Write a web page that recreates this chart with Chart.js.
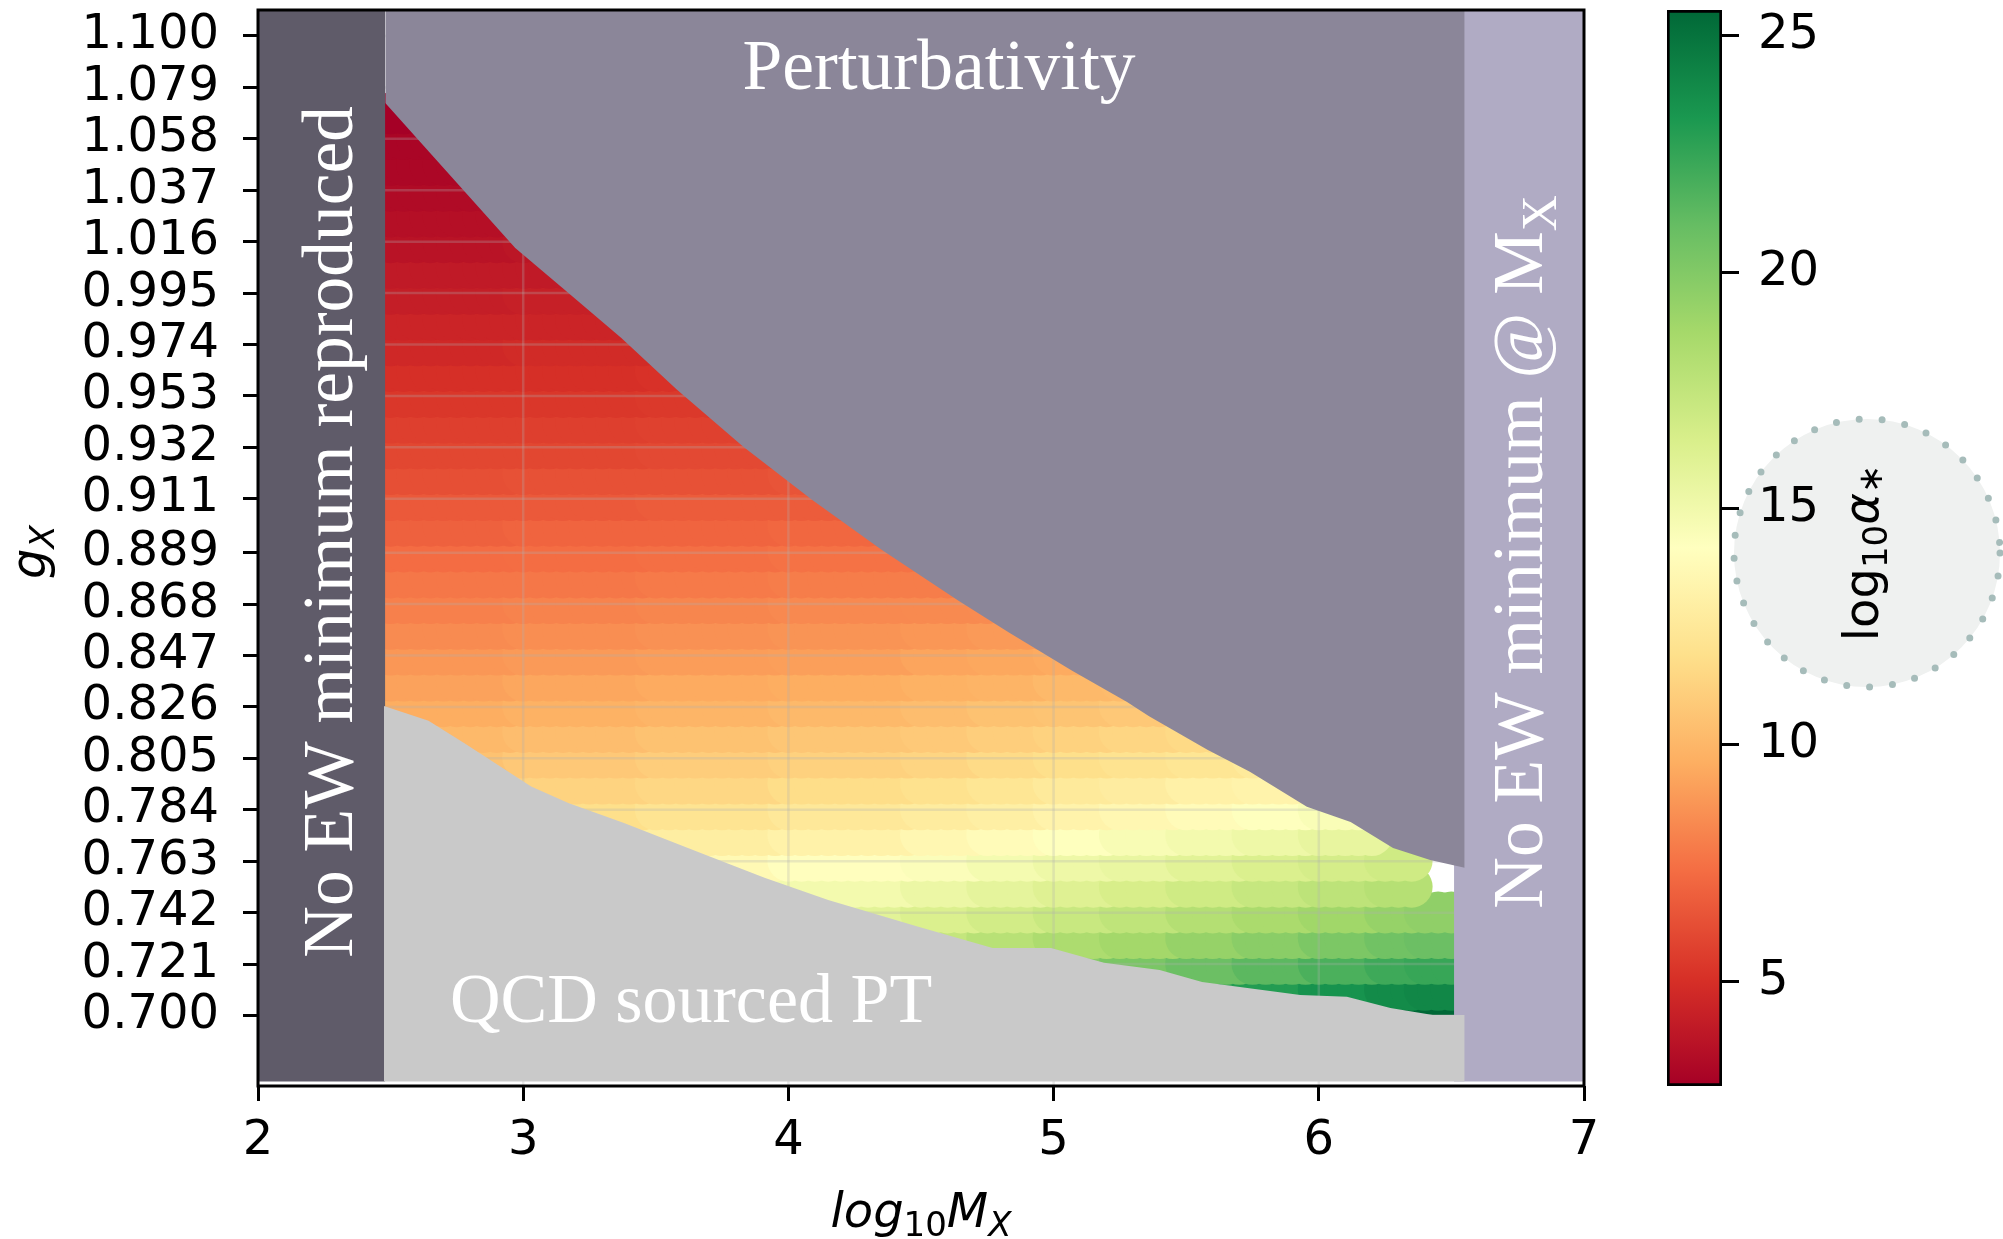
<!DOCTYPE html>
<html>
<head>
<meta charset="utf-8">
<script src="https://cdn.jsdelivr.net/npm/chart.js@4.4.1/dist/chart.umd.min.js"></script>
<style>
html,body{margin:0;padding:0;background:#fff;}
#wrap{position:relative;width:2003px;height:1239px;overflow:hidden;background:#fff;}
canvas{position:absolute;top:0;}
</style>
</head>
<body>
<div id="wrap">
<canvas id="main" width="2003" height="1239" style="left:0px"></canvas>
<canvas id="cb" width="403" height="1239" style="left:1600px"></canvas>
</div>
<script>
// ---------------- DATA ----------------
const xTicks = [2, 3, 4, 5, 6, 7];
const yTickLabels = ['0.700','0.721','0.742','0.763','0.784','0.805','0.826','0.847','0.868','0.889',
                     '0.911','0.932','0.953','0.974','0.995','1.016','1.037','1.058','1.079','1.100'];
const cbTicks = [5, 10, 15, 20, 25];

// g_X grid rows of the scan
const gRows = [0.7000,0.7105,0.7211,0.7316,0.7421,0.7526,0.7632,0.7737,0.7842,0.7947,
               0.8053,0.8158,0.8263,0.8368,0.8474,0.8579,0.8684,0.8789,0.8895,0.9000,
               0.9105,0.9211,0.9316,0.9421,0.9526,0.9632,0.9737,0.9842,0.9947,1.0053,
               1.0158,1.0263,1.0368,1.0474,1.0579,1.0684];
// log10 M_X grid columns of the scan
const xGrid = [2.50,2.55,2.60,2.65,2.70,2.75,2.80,2.85,2.90,2.95,
               3.00,3.05,3.10,3.15,3.20,3.25,3.30,3.35,3.40,3.45,
               3.50,3.55,3.60,3.65,3.70,3.75,3.80,3.85,3.90,3.95,
               4.00,4.05,4.10,4.15,4.20,4.25,4.30,4.35,4.40,4.45,
               4.50,4.55,4.60,4.65,4.70,4.75,4.80,4.85,4.90,4.95,
               5.00,5.05,5.10,5.15,5.20,5.25,5.30,5.35,5.40,5.45,
               5.50,5.55,5.60,5.65,5.70,5.75,5.80,5.85,5.90,5.95,
               6.00,6.05,6.10,6.15,6.20,6.25,6.30,6.35,6.40,6.45,6.50];
// log10 alpha_* read in column blocks of log10 M_X (edges below); each block lists rows from blockFirstRow
const blockEdges = [2.5, 3.0, 3.5, 4.0, 4.5, 4.75, 5.0, 5.25, 5.5, 5.75, 6.0, 6.25, 6.4, 6.5];
const blockFirstRow = [8, 6, 4, 2, 1, 1, 0, 0, 0, 0, 0, 0, 0];
const alphaM250 = [11.6,11.0,10.5,10.1,9.6,9.2,8.8,8.4,8.0,7.7,7.3,6.9,6.6,6.2,5.9,5.6,5.3,5.0,4.7,4.5,4.2,4.0,3.7,3.5,3.3,3.1,3.0,2.78];
const alphaM300 = [13.4,12.6,11.9,11.3,10.8,10.3,9.8,9.35,8.9,8.5,8.1,7.7,7.35,7.0,6.6,6.3,5.9,5.6,5.3,5.0,4.8,4.5,4.3,4.0,3.8,3.6];
const alphaM350 = [15.5,14.5,13.7,12.9,12.2,11.5,11.0,10.5,9.95,9.5,9.0,8.6,8.2,7.8,7.4,7.0,6.7,6.3,6.0,5.7,5.4,5.1,4.8,4.6];
const alphaM400 = [18.4,17.0,15.9,14.9,14.1,13.2,12.5,11.8,11.2,10.7,10.1,9.6,9.1,8.7,8.3,7.9,7.5,7.1,6.7,6.4,6.0];
const alphaM450 = [20.5,18.8,17.4,16.3,15.3,14.4,13.6,12.75,12.0,11.4,10.85,10.3,9.8,9.3,8.8,8.35,7.9,7.5];
const alphaM475 = [21.0,19.3,17.9,16.75,15.7,14.8,13.9,13.0,12.3,11.65,11.05,10.5,9.9,9.4,8.9,8.4,8.0];
const alphaM500 = [22.9,21.5,19.8,18.4,17.2,16.1,15.2,14.2,13.3,12.6,11.9,11.25,10.6,10.1,9.5,9.0];
const alphaM525 = [23.4,22.0,20.3,18.8,17.6,16.5,15.5,14.6,13.6,12.8,12.1,11.45,10.8,10.2,9.6];
const alphaM550 = [24.0,22.5,20.8,19.3,18.1,16.9,15.9,14.9,13.9,13.1,12.3,11.6,11.0];
const alphaM575 = [24.5,23.0,21.3,19.7,18.5,17.3,16.3,15.2,14.2,13.3,12.6,11.8];
const alphaM600 = [25.0,23.5,21.8,20.2,18.9,17.7,16.6,15.55,14.5,13.6];
const alphaM625 = [25.4,23.9,22.2,20.6,19.3,18.0,16.9];
const alphaM640 = [25.55,24.1,22.4,20.8,19.5];

// Perturbativity bound (region above)
const pertX = [2.48, 2.97, 3.165, 3.37, 3.58, 3.83, 4.09, 4.35, 4.64, 4.83, 5.07, 5.277, 5.36, 5.58, 5.74, 5.955, 6.12, 6.28, 6.42, 6.55];
const pertG = [1.0726, 1.0134, 0.9955, 0.9767, 0.9555, 0.9322, 0.9105, 0.8903, 0.8695, 0.8565, 0.8408, 0.8280, 0.8222, 0.8085, 0.7995, 0.7852, 0.7790, 0.7684, 0.7635, 0.7603];
// QCD sourced PT bound (region below)
const qcdX = [2.475, 2.643, 2.777, 3.03, 3.17, 3.38, 3.667, 3.91, 4.15, 4.49, 4.77, 4.99, 5.19, 5.40, 5.56, 5.93, 6.106, 6.27, 6.43, 6.55];
const qcdG = [0.8264, 0.8204, 0.8113, 0.7935, 0.7868, 0.7786, 0.7664, 0.7562, 0.7472, 0.7362, 0.7276, 0.7276, 0.7215, 0.7186, 0.7137, 0.7084, 0.7076, 0.7031, 0.7002, 0.7002];
// excluded vertical bands
const noEWLeftX = [2.0, 2.48];
const noEWRightX = [6.51, 7.0];

// ---------------- STYLE / LAYOUT ----------------
const X_MIN = 2, X_MAX = 7, Y_MIN = 0.6712, Y_MAX = 1.1106, REGION_BOTTOM = 0.673;
const alphaBlocks = [alphaM250, alphaM300, alphaM350, alphaM400, alphaM450, alphaM475, alphaM500, alphaM525, alphaM550, alphaM575, alphaM600, alphaM625, alphaM640];
const allVals = alphaBlocks.flat();
const CB_MIN = Math.min(...allVals), CB_MAX = Math.max(...allVals);
const yTickValues = yTickLabels.map(Number);

const RDYLGN = ['#a50026','#d73027','#f46d43','#fdae61','#fee08b','#ffffbf','#d9ef8b','#a6d96a','#66bd63','#1a9850','#006837'];
const CMAP = RDYLGN.map(h => [parseInt(h.slice(1,3),16), parseInt(h.slice(3,5),16), parseInt(h.slice(5,7),16)]);
function cmap(v) {
  let t = (v - CB_MIN) / (CB_MAX - CB_MIN);
  t = Math.max(0, Math.min(1, t));
  const p = t * (CMAP.length - 1);
  const i = Math.min(Math.floor(p), CMAP.length - 2);
  const f = p - i, a = CMAP[i], b = CMAP[i + 1];
  return 'rgb(' + Math.round(a[0] + (b[0]-a[0])*f) + ',' + Math.round(a[1] + (b[1]-a[1])*f) + ',' + Math.round(a[2] + (b[2]-a[2])*f) + ')';
}
function blockOf(x) {
  for (let b = 0; b < blockEdges.length - 2; b++) if (x < blockEdges[b + 1] - 1e-9) return b;
  return blockEdges.length - 2;
}

const scatterPts = [], scatterCols = [];
for (let k = 0; k < gRows.length; k++) {
  for (const x of xGrid) {
    const b = blockOf(x);
    const j = k - blockFirstRow[b];
    const arr = alphaBlocks[b];
    if (j < 0 || j >= arr.length) continue;
    scatterPts.push({x: x, y: gRows[k]});
    scatterCols.push(cmap(arr[j]));
  }
}

const C_LEFT = '#5f5b69', C_PERT = '#8b8699', C_RIGHT = '#b0abc4', C_QCD = '#c9c9c9';
const SERIF = '71.5px "Liberation Serif"', SERIF_QCD = '70px "Liberation Serif"', SERIF_SUB = '50px "Liberation Serif"';
const SANS = '48px "DejaVu Sans"', SANS_SUB = '34px "DejaVu Sans"';
const SANS_IT = 'italic 48px "DejaVu Sans"', SANS_IT_SUB = 'italic 34px "DejaVu Sans"';

function drawRich(ctx, segs, x, y, rot, align) {
  ctx.save();
  ctx.translate(x, y);
  if (rot) ctx.rotate(rot);
  ctx.textAlign = 'left';
  ctx.textBaseline = 'alphabetic';
  let w = 0;
  for (const s of segs) { ctx.font = s.font; w += ctx.measureText(s.t).width; }
  let cx = align === 'center' ? -w / 2 : 0;
  for (const s of segs) {
    ctx.font = s.font;
    ctx.fillText(s.t, cx, s.dy || 0);
    cx += ctx.measureText(s.t).width;
  }
  ctx.restore();
}

const mainPlugin = {
  id: 'mainDecor',
  afterDatasetDraw(chart, args) {
    if (args.index !== 0) return;
    const {ctx, chartArea: a, scales: {x, y}} = chart;
    ctx.save();
    ctx.beginPath(); ctx.rect(a.left, a.top, a.width, a.height); ctx.clip();
    ctx.strokeStyle = 'rgba(176,176,176,0.28)';
    ctx.lineWidth = 2.5;
    for (const t of x.ticks) {
      const px = x.getPixelForValue(t.value);
      ctx.beginPath(); ctx.moveTo(px, a.top); ctx.lineTo(px, a.bottom); ctx.stroke();
    }
    for (const t of y.ticks) {
      const py = y.getPixelForValue(t.value);
      ctx.beginPath(); ctx.moveTo(a.left, py); ctx.lineTo(a.right, py); ctx.stroke();
    }
    ctx.restore();
  },
  afterDatasetsDraw(chart) {
    const {ctx, scales: {x, y}} = chart;
    ctx.save();
    ctx.fillStyle = '#ffffff';
    drawRich(ctx, [{t: 'Perturbativity', font: SERIF}], x.getPixelForValue(4.568), y.getPixelForValue(1.0784), 0, 'center');
    drawRich(ctx, [{t: 'QCD sourced PT', font: SERIF_QCD}], x.getPixelForValue(2.724), y.getPixelForValue(0.6974), 0, 'left');
    drawRich(ctx, [{t: 'No EW minimum reproduced', font: SERIF}], x.getPixelForValue(2.354), y.getPixelForValue(0.8975), -Math.PI / 2, 'center');
    drawRich(ctx, [{t: 'No EW minimum @ M', font: SERIF}, {t: 'X', font: SERIF_SUB, dy: 14}], x.getPixelForValue(6.842), y.getPixelForValue(0.8893), -Math.PI / 2, 'center');
    ctx.restore();
  },
  afterDraw(chart) {
    const {ctx, chartArea: a} = chart;
    ctx.save();
    ctx.strokeStyle = '#000'; ctx.lineWidth = 3;
    ctx.strokeRect(a.left, a.top, a.width, a.height);
    ctx.fillStyle = '#000';
    drawRich(ctx, [{t: 'log', font: SANS_IT}, {t: '10', font: SANS_SUB, dy: 9}, {t: 'M', font: SANS_IT}, {t: 'X', font: SANS_IT_SUB, dy: 9}],
             (a.left + a.right) / 2, 1227, 0, 'center');
    drawRich(ctx, [{t: 'g', font: SANS_IT}, {t: 'X', font: SANS_IT_SUB, dy: 9}], 45, (a.top + a.bottom) / 2 + 4, -Math.PI / 2, 'center');
    ctx.restore();
  }
};

const lineBase = {type: 'line', borderWidth: 0, borderColor: 'rgba(0,0,0,0)', pointRadius: 0, pointHoverRadius: 0, tension: 0};

new Chart(document.getElementById('main'), {
  type: 'scatter',
  data: {
    datasets: [
      {
        type: 'scatter', data: scatterPts, pointRadius: 21, pointHoverRadius: 21,
        pointBackgroundColor: scatterCols, pointBorderColor: 'rgba(0,0,0,0)', pointBorderWidth: 0,
        order: 10, clip: 0
      },
      Object.assign({}, lineBase, {data: noEWRightX.map(v => ({x: v, y: Y_MAX})), fill: {value: REGION_BOTTOM}, backgroundColor: C_RIGHT, order: 4}),
      Object.assign({}, lineBase, {data: noEWLeftX.map(v => ({x: v, y: Y_MAX})), fill: {value: REGION_BOTTOM}, backgroundColor: C_LEFT, order: 3}),
      Object.assign({}, lineBase, {data: pertX.map((v, i) => ({x: v, y: pertG[i]})), fill: 'end', backgroundColor: C_PERT, order: 2}),
      Object.assign({}, lineBase, {data: qcdX.map((v, i) => ({x: v, y: qcdG[i]})), fill: {value: REGION_BOTTOM}, backgroundColor: C_QCD, order: 1})
    ]
  },
  options: {
    responsive: false, animation: false, devicePixelRatio: 1, events: [],
    layout: {autoPadding: false, padding: {left: 0, right: 419, top: 10, bottom: 0}},
    plugins: {legend: {display: false}, tooltip: {enabled: false}},
    scales: {
      x: {
        type: 'linear', min: X_MIN, max: X_MAX, position: 'bottom',
        afterBuildTicks: s => { s.ticks = xTicks.map(v => ({value: v})); },
        afterFit: s => { s.height = 153; s.paddingLeft = 0; s.paddingRight = 0; },
        ticks: {autoSkip: false, maxRotation: 0, minRotation: 0, padding: 12, color: '#000',
                font: {family: 'DejaVu Sans', size: 48}, callback: v => String(v)},
        grid: {drawOnChartArea: false, drawTicks: true, tickLength: 15, tickWidth: 3, tickColor: '#000'},
        border: {display: false}
      },
      y: {
        type: 'linear', min: Y_MIN, max: Y_MAX, position: 'left',
        afterBuildTicks: s => { s.ticks = yTickValues.map(v => ({value: v})); },
        afterFit: s => { s.width = 258; s.paddingTop = 0; s.paddingBottom = 0; },
        ticks: {autoSkip: false, padding: 24, color: '#000', font: {family: 'DejaVu Sans', size: 48},
                callback: v => yTickLabels[yTickValues.indexOf(v)]},
        grid: {drawOnChartArea: false, drawTicks: true, tickLength: 15, tickWidth: 3, tickColor: '#000'},
        border: {display: false}
      }
    }
  },
  plugins: [mainPlugin]
});

// ---------------- COLORBAR ----------------
const cbPlugin = {
  id: 'cbDecor',
  beforeDraw(chart) {
    const ctx = chart.ctx;
    ctx.save();
    ctx.beginPath();
    ctx.ellipse(267, 553, 133, 134, 0, 0, Math.PI * 2);
    ctx.fillStyle = '#eff1f0';
    ctx.fill();
    ctx.setLineDash([0, 23]);
    ctx.lineCap = 'round';
    ctx.lineWidth = 7;
    ctx.strokeStyle = '#a6bcba';
    ctx.stroke();
    ctx.restore();
  },
  afterDraw(chart) {
    const ctx = chart.ctx;
    ctx.save();
    ctx.fillStyle = '#000';
    drawRich(ctx, [{t: 'log', font: SANS}, {t: '10', font: SANS_SUB, dy: 9}, {t: 'α', font: SANS_IT}, {t: '∗', font: SANS_SUB, dy: 4}],
             278, 553, -Math.PI / 2, 'center');
    ctx.restore();
  }
};

new Chart(document.getElementById('cb'), {
  type: 'bar',
  data: {
    labels: [''],
    datasets: [{
      data: [[CB_MIN, CB_MAX]],
      backgroundColor: c => {
        const a = c.chart.chartArea;
        if (!a) return '#ccc';
        const g = c.chart.ctx.createLinearGradient(0, a.bottom, 0, a.top);
        RDYLGN.forEach((h, i) => g.addColorStop(i / (RDYLGN.length - 1), h));
        return g;
      },
      borderColor: '#000', borderWidth: 3, borderSkipped: false,
      barPercentage: 1, categoryPercentage: 1
    }]
  },
  options: {
    responsive: false, animation: false, devicePixelRatio: 1, events: [],
    layout: {autoPadding: false, padding: {left: 67, right: 0, top: 10, bottom: 153}},
    plugins: {legend: {display: false}, tooltip: {enabled: false}},
    scales: {
      x: {display: false},
      y: {
        position: 'right', min: CB_MIN, max: CB_MAX,
        afterBuildTicks: s => { s.ticks = cbTicks.map(v => ({value: v})); },
        afterFit: s => { s.width = 281; s.paddingTop = 0; s.paddingBottom = 0; },
        ticks: {padding: 19, color: '#000', font: {family: 'DejaVu Sans', size: 48}, callback: v => String(v)},
        grid: {drawOnChartArea: false, drawTicks: true, tickLength: 17, tickWidth: 3, tickColor: '#000'},
        border: {display: false}
      }
    }
  },
  plugins: [cbPlugin]
});
</script>
</body>
</html>
